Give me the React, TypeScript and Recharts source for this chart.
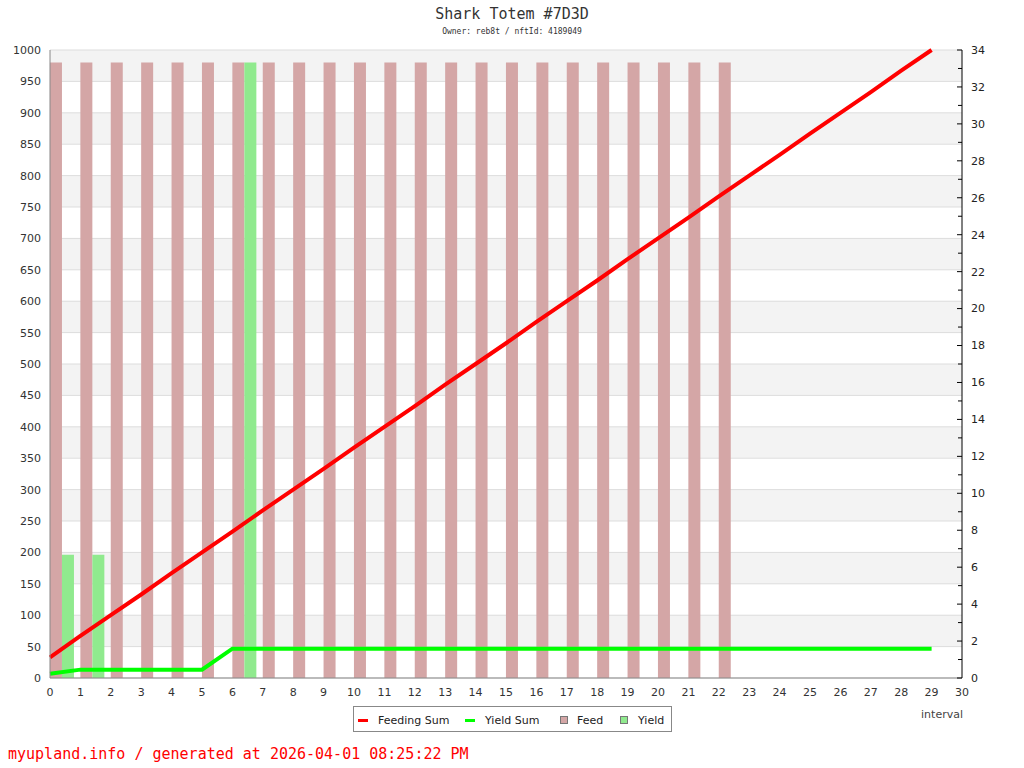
import { ComposedChart, Bar, Line, XAxis, YAxis, CartesianGrid } from "recharts";

// interval index (0..29)
const intervals = [
  0, 1, 2, 3, 4, 5, 6, 7, 8, 9, 10, 11, 12, 13, 14, 15, 16, 17, 18, 19, 20,
  21, 22, 23, 24, 25, 26, 27, 28, 29,
];

// per-interval feed (right axis)
const feed = [
  33.33, 33.33, 33.33, 33.33, 33.33, 33.33, 33.33, 33.33, 33.33, 33.33, 33.33,
  33.33, 33.33, 33.33, 33.33, 33.33, 33.33, 33.33, 33.33, 33.33, 33.33, 33.33,
  33.33, null, null, null, null, null, null, null,
];

// per-interval yield (right axis)
const yieldAmt = [
  6.67, 6.67, null, null, null, null, 33.33, null, null, null, null, null, null,
  null, null, null, null, null, null, null, null, null, null, null, null, null,
  null, null, null, null,
];

// cumulative sums (left axis)
const feedingSum = [
  33, 67, 100, 133, 167, 200, 233, 267, 300, 333, 367, 400, 433, 467, 500, 533,
  567, 600, 633, 667, 700, 733, 767, 800, 833, 867, 900, 933, 967, 1000,
];
const yieldSum = [
  6.67, 13.33, 13.33, 13.33, 13.33, 13.33, 46.67, 46.67, 46.67, 46.67, 46.67,
  46.67, 46.67, 46.67, 46.67, 46.67, 46.67, 46.67, 46.67, 46.67, 46.67, 46.67,
  46.67, 46.67, 46.67, 46.67, 46.67, 46.67, 46.67, 46.67,
];

const leftTicks = [
  0, 50, 100, 150, 200, 250, 300, 350, 400, 450, 500, 550, 600, 650, 700, 750,
  800, 850, 900, 950, 1000,
];
const rightTicks = [
  0, 1, 2, 3, 4, 5, 6, 7, 8, 9, 10, 11, 12, 13, 14, 15, 16, 17, 18, 19, 20, 21,
  22, 23, 24, 25, 26, 27, 28, 29, 30, 31, 32, 33, 34,
];
const xTicks = [
  0, 1, 2, 3, 4, 5, 6, 7, 8, 9, 10, 11, 12, 13, 14, 15, 16, 17, 18, 19, 20,
  21, 22, 23, 24, 25, 26, 27, 28, 29, 30,
];

const COLORS = {
  feedingSum: "#ff0000",
  yieldSum: "#00ff00",
  feed: "#d4a6a6",
  yield: "#90ea8e",
};

const SANS = "'DejaVu Sans', Verdana, sans-serif";
const MONO = "'DejaVu Sans Mono', 'Liberation Mono', monospace";

const chartData = intervals.map((x, i) => ({
  x,
  feed: feed[i],
  yield: yieldAmt[i],
  feedingSum: feedingSum[i],
  yieldSum: yieldSum[i],
}));

function RightTick(props: any) {
  const { x, y, payload } = props;
  const v = payload.value as number;
  const ax = x - 9;
  const major = v % 2 === 0;
  return (
    <g>
      <line x1={ax - (major ? 5 : 4)} x2={ax} y1={y} y2={y} stroke="#000" />
      {major && (
        <text x={x} y={y} dy="0.355em" textAnchor="start" fontSize={11} fontFamily={SANS} fill="#222">
          {v}
        </text>
      )}
    </g>
  );
}

function LegendBox() {
  const text: React.CSSProperties = {
    position: "absolute",
    top: 7,
    fontSize: 11,
    lineHeight: "13px",
    fontFamily: SANS,
    color: "#222",
  };
  return (
    <div
      style={{
        position: "absolute",
        left: 353,
        top: 706,
        width: 317,
        height: 24,
        border: "1px solid #888",
        background: "#fff",
      }}
    >
      <span style={{ position: "absolute", left: 4, top: 12, width: 10, height: 3, background: COLORS.feedingSum }} />
      <span style={{ ...text, left: 24 }}>Feeding Sum</span>
      <span style={{ position: "absolute", left: 111, top: 12, width: 10, height: 3, background: COLORS.yieldSum }} />
      <span style={{ ...text, left: 131 }}>Yield Sum</span>
      <span style={{ position: "absolute", left: 206, top: 9, width: 6, height: 6, background: COLORS.feed, border: "1px solid #777" }} />
      <span style={{ ...text, left: 223 }}>Feed</span>
      <span style={{ position: "absolute", left: 266, top: 9, width: 6, height: 6, background: COLORS.yield, border: "1px solid #777" }} />
      <span style={{ ...text, left: 284 }}>Yield</span>
    </div>
  );
}

export default function App() {
  return (
    <div style={{ position: "absolute", left: 0, top: 0, width: 1024, height: 768, background: "#fff" }}>
      <ComposedChart
        width={1024}
        height={768}
        data={chartData}
        margin={{ top: 50, right: 0, bottom: 60, left: 0 }}
        barGap={0}
      >
        <CartesianGrid
          xAxisId="main"
          yAxisId="left"
          vertical={false}
          stroke="#dddddd"
          horizontalFill={["#f3f3f3", "#ffffff"]}
        />
        <XAxis
          xAxisId="main"
          dataKey="x"
          type="number"
          domain={[0, 30]}
          ticks={xTicks}
          height={30}
          axisLine={{ stroke: "#888" }}
          tickLine={false}
          tickSize={0}
          tickMargin={10}
          tick={{ fontSize: 11, fill: "#333", fontFamily: SANS }}
          interval={0}
        />
        <XAxis xAxisId="bars" dataKey="x" type="number" domain={[-0.4, 29.6]} height={0} hide />
        <YAxis
          yAxisId="left"
          domain={[0, 1000]}
          ticks={leftTicks}
          width={50}
          axisLine={{ stroke: "#888" }}
          tickLine={false}
          tickSize={0}
          tickMargin={9}
          tick={{ fontSize: 11, fill: "#333", fontFamily: SANS }}
          interval={0}
        />
        <YAxis
          yAxisId="right"
          orientation="right"
          domain={[0, 34]}
          ticks={rightTicks}
          width={62}
          axisLine={{ stroke: "#000" }}
          tickLine={false}
          tickSize={0}
          tickMargin={9}
          tick={<RightTick />}
          interval={0}
        />
        <Bar
          xAxisId="bars"
          yAxisId="right"
          dataKey="feed"
          fill={COLORS.feed}
          barSize={12}
          isAnimationActive={false}
        />
        <Bar
          xAxisId="bars"
          yAxisId="right"
          dataKey="yield"
          fill={COLORS.yield}
          barSize={12}
          isAnimationActive={false}
        />
        <Line
          xAxisId="main"
          yAxisId="left"
          type="linear"
          dataKey="feedingSum"
          stroke={COLORS.feedingSum}
          strokeWidth={4}
          dot={false}
          isAnimationActive={false}
        />
        <Line
          xAxisId="main"
          yAxisId="left"
          type="linear"
          dataKey="yieldSum"
          stroke={COLORS.yieldSum}
          strokeWidth={4}
          dot={false}
          isAnimationActive={false}
        />
      </ComposedChart>

      <svg
        width={1024}
        height={768}
        style={{ position: "absolute", left: 0, top: 0, pointerEvents: "none" }}
      >
        <text x={512} y={19} textAnchor="middle" fontSize={15} fontFamily={MONO} fill="#333">
          Shark Totem #7D3D
        </text>
        <text x={512} y={34} textAnchor="middle" fontSize={8} fontFamily={MONO} fill="#333">
          Owner: reb8t / nftId: 4189049
        </text>
        <text x={963} y={718} textAnchor="end" fontSize={11} fontFamily={SANS} fill="#444">
          interval
        </text>
        <text x={8} y={759} fontSize={15} fontFamily={MONO} fill="#ff0000">
          myupland.info / generated at 2026-04-01 08:25:22 PM
        </text>
      </svg>

      <LegendBox />
    </div>
  );
}
